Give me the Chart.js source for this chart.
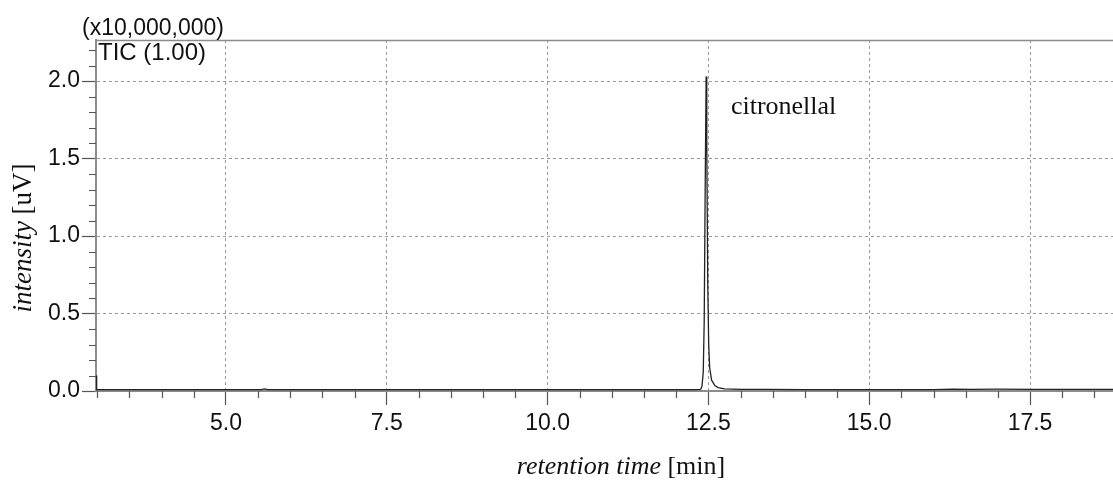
<!DOCTYPE html>
<html><head><meta charset="utf-8">
<script src="https://cdn.jsdelivr.net/npm/chart.js@4.4.1/dist/chart.umd.min.js"></script>
<style>html,body{margin:0;padding:0;background:#fff;}#wrap{width:1113px;height:480px;position:relative;}</style>
</head><body><div id="wrap"><canvas id="c"></canvas></div>
<script>
// ---- data ----
const retentionTime = [2.98, 2.99, 3.3, 4.0, 5.0, 5.55, 5.6, 5.65, 6.5, 7.5, 8.5, 9.5, 10.5, 11.5, 12.0, 12.3, 12.38, 12.40, 12.42, 12.435, 12.45, 12.465, 12.475, 12.49, 12.505, 12.52, 12.55, 12.60, 12.65, 12.75, 13.0, 13.4, 14.0, 15.0, 16.0, 16.3, 16.6, 17.0, 17.5, 18.0, 18.5, 18.79];
const intensity     = [0.10, 0.009, 0.009, 0.009, 0.009, 0.009, 0.013, 0.009, 0.009, 0.009, 0.009, 0.009, 0.009, 0.009, 0.009, 0.009, 0.010, 0.03, 0.12, 0.45, 1.30, 2.03, 1.60, 0.70, 0.30, 0.15, 0.07, 0.035, 0.022, 0.014, 0.011, 0.010, 0.009, 0.009, 0.009, 0.012, 0.011, 0.012, 0.010, 0.011, 0.010, 0.010];
const xTickValues = [5.0, 7.5, 10.0, 12.5, 15.0, 17.5];
const yTickValues = [0.0, 0.5, 1.0, 1.5, 2.0];
const xRange = [2.98, 18.79];
const yRange = [0, 2.265];
const xMinorStep = 0.5;
const yMinorStep = 0.1;
const peakLabel = {text: 'citronellal', x: 12.85, y: 1.79};
const yUnitLabel = '(x10,000,000)';
const traceLabel = 'TIC (1.00)';
const xTitle = ['retention time', ' [min]'];
const yTitle = ['intensity', ' [uV]'];

const SANS = '"Liberation Sans", Arial, sans-serif';
const SERIF = '"Liberation Serif", "Times New Roman", serif';

function isMajor(v, step) { return Math.abs(v / step - Math.round(v / step)) < 1e-6; }

const decor = {
  id: 'decor',
  afterDraw(chart) {
    const {ctx, chartArea: a, scales: {x, y}} = chart;
    ctx.save();
    // top frame line
    ctx.strokeStyle = '#8c8c8c'; ctx.lineWidth = 1.5;
    ctx.beginPath(); ctx.moveTo(a.left, a.top + 0.5); ctx.lineTo(a.right, a.top + 0.5); ctx.stroke();
    // minor ticks
    ctx.strokeStyle = '#555'; ctx.lineWidth = 1.2;
    ctx.beginPath();
    for (let k = Math.ceil(xRange[0] / xMinorStep); k * xMinorStep <= xRange[1]; k++) {
      const v = k * xMinorStep;
      if (isMajor(v, 2.5)) continue;
      const px = Math.round(x.getPixelForValue(v)) + 0.5;
      ctx.moveTo(px, a.bottom); ctx.lineTo(px, a.bottom + 7);
    }
    for (let k = 1; k * yMinorStep <= yRange[1]; k++) {
      const v = k * yMinorStep;
      if (isMajor(v, 0.5)) continue;
      const py = Math.round(y.getPixelForValue(v)) + 0.5;
      ctx.moveTo(a.left - 7, py); ctx.lineTo(a.left, py);
    }
    ctx.stroke();
    // texts
    ctx.fillStyle = '#111';
    ctx.textBaseline = 'alphabetic';
    ctx.textAlign = 'left';
    ctx.font = '23px ' + SANS;
    ctx.fillText(yUnitLabel, 82, 35);
    ctx.font = '24px ' + SANS;
    ctx.fillText(traceLabel, 98, 60);
    ctx.font = '26px ' + SERIF;
    ctx.fillText(peakLabel.text, x.getPixelForValue(peakLabel.x), y.getPixelForValue(peakLabel.y));
    // x title (italic + normal)
    const it = 'italic 26px ' + SERIF, nm = '26px ' + SERIF;
    ctx.font = it; const w1 = ctx.measureText(xTitle[0]).width;
    ctx.font = nm; const w2 = ctx.measureText(xTitle[1]).width;
    let sx = 621 - (w1 + w2) / 2;
    ctx.font = it; ctx.fillText(xTitle[0], sx, 474);
    ctx.font = nm; ctx.fillText(xTitle[1], sx + w1, 474);
    // y title rotated
    const it2 = 'italic 27px ' + SERIF, nm2 = '27px ' + SERIF;
    ctx.save();
    ctx.translate(31, 238);
    ctx.rotate(-Math.PI / 2);
    ctx.font = it2; const v1 = ctx.measureText(yTitle[0]).width;
    ctx.font = nm2; const v2 = ctx.measureText(yTitle[1]).width;
    const sy = -(v1 + v2) / 2;
    ctx.font = it2; ctx.fillText(yTitle[0], sy, 0);
    ctx.font = nm2; ctx.fillText(yTitle[1], sy + v1, 0);
    ctx.restore();
    ctx.restore();
  }
};

const points = retentionTime.map((t, i) => ({x: t, y: intensity[i]}));

new Chart(document.getElementById('c'), {
  type: 'line',
  data: { datasets: [{ data: points, borderColor: '#222', borderWidth: 1.3, pointRadius: 0, tension: 0, fill: false }] },
  options: {
    responsive: true, maintainAspectRatio: false, animation: false,
    layout: { padding: { top: 40, right: 0, left: 0, bottom: 0 } },
    plugins: { legend: { display: false }, tooltip: { enabled: false } },
    scales: {
      x: {
        type: 'linear', min: xRange[0], max: xRange[1],
        afterBuildTicks: s => { s.ticks = xTickValues.map(v => ({value: v})); },
        afterFit: s => { s.height = 89; },
        ticks: { callback: v => v.toFixed(1), font: { family: SANS, size: 23 }, color: '#111', padding: 5, maxRotation: 0, autoSkip: false },
        grid: { color: '#9a9a9a', lineWidth: 1, tickLength: 14, tickColor: '#555', tickWidth: 1.2 },
        border: { color: '#8c8c8c', width: 2, dash: [3, 3] }
      },
      y: {
        type: 'linear', min: yRange[0], max: yRange[1],
        afterBuildTicks: s => { s.ticks = yTickValues.map(v => ({value: v})); },
        afterFit: s => { s.width = 96; },
        ticks: { callback: v => v.toFixed(1), font: { family: SANS, size: 23 }, color: '#111', padding: 2, autoSkip: false },
        grid: { color: '#9a9a9a', lineWidth: 1, tickLength: 14, tickColor: '#555', tickWidth: 1.2 },
        border: { color: '#8c8c8c', width: 2, dash: [3, 3] }
      }
    }
  },
  plugins: [decor]
});
</script>
</body></html>
